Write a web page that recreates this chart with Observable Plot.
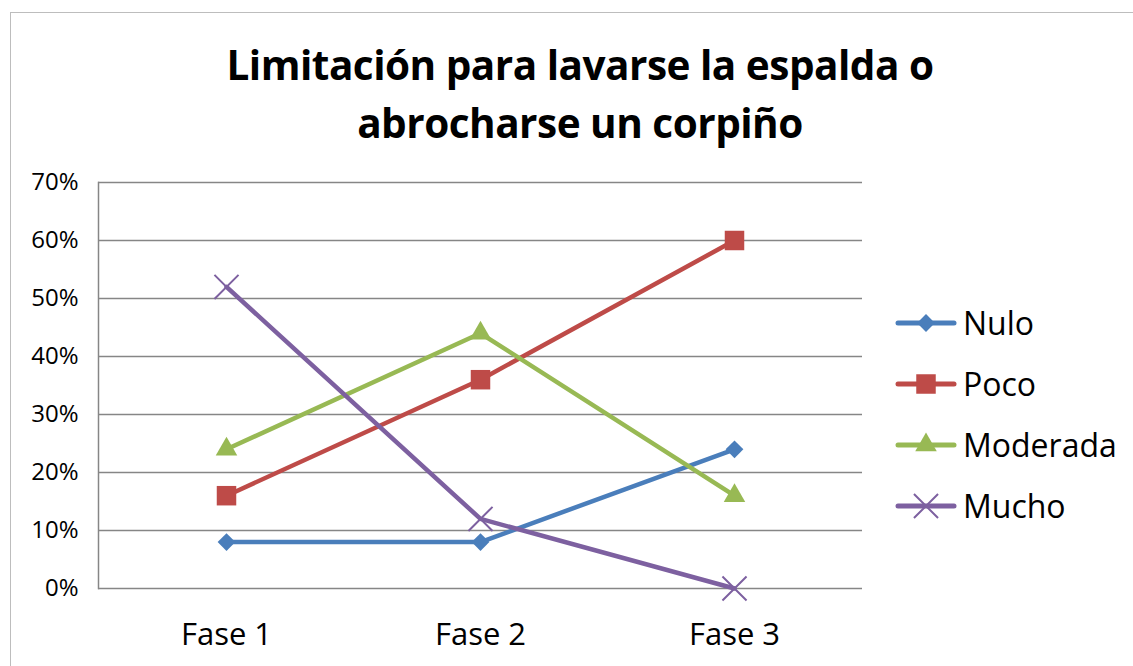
<!DOCTYPE html>
<html><head><meta charset="utf-8">
<script src="https://cdn.jsdelivr.net/npm/d3@7"></script>
<script src="https://cdn.jsdelivr.net/npm/@observablehq/plot@0.6"></script>
<style>
body{margin:0;background:#fff;font-family:"Open Sans",sans-serif;}
#wrap{position:relative;width:1133px;height:666px;overflow:hidden;}
#frame{position:absolute;left:10px;top:12px;width:1140px;height:700px;border:1px solid #bdbdbd;box-sizing:border-box;}
#title{position:absolute;left:0;top:36px;width:1160px;text-align:center;font-weight:bold;font-size:40.5px;line-height:58px;color:#000;font-family:"Open Sans",sans-serif;letter-spacing:-0.5px;}
#chart{position:absolute;left:0;top:160px;}
#legend{position:absolute;left:895px;top:292px;}
.row{display:flex;align-items:center;height:61px;font-size:32px;color:#000;}
.row svg{margin-right:6px;}
</style></head>
<body><div id="wrap"><div id="frame"></div>
<div id="title">Limitación para lavarse la espalda o<br>abrocharse un corpiño</div>
<div id="chart"></div><div id="legend"></div></div>
<script>
const fases = ["Fase 1","Fase 2","Fase 3"];
const series = ["Nulo","Poco","Moderada","Mucho"];
const nulo = [0.08,0.08,0.24];
const poco = [0.16,0.36,0.60];
const moderada = [0.24,0.44,0.16];
const mucho = [0.52,0.12,0.00];
const yTicks = [0,0.1,0.2,0.3,0.4,0.5,0.6,0.7];
const colors = ["#4a7ebb","#be4b48","#98b954","#7d60a0"];
const symbols = ["diamond2","square","triangle","times"];
const symSize = [8,11,8,11];

const values = [nulo,poco,moderada,mucho];
const data = [];
series.forEach((s,i)=>fases.forEach((f,j)=>data.push({serie:s,fase:f,v:values[i][j],color:colors[i]})));

const marks = [
  Plot.gridY(yTicks,{stroke:"#868686",strokeOpacity:1,strokeWidth:1.5}),
  Plot.frame({anchor:"left",stroke:"#868686",strokeWidth:1.5}),
  Plot.text(yTicks,{y:d=>d,text:d3.format(".0%"),frameAnchor:"left",textAnchor:"end",dx:-20,fontSize:24,fill:"#000"}),
  Plot.axisX({tickSize:0,tickPadding:34,fontSize:31,fill:"#000"}),
];
series.forEach((s,i)=>{
  const d = data.filter(e=>e.serie===s);
  marks.push(Plot.line(d,{x:"fase",y:"v",stroke:colors[i],strokeWidth:4.5}));
  const sym = symbols[i];
  if(sym==="times"){
    marks.push(Plot.dot(d,{x:"fase",y:"v",symbol:"times",r:symSize[i],stroke:colors[i],strokeWidth:2}));
  } else {
    marks.push(Plot.dot(d,{x:"fase",y:"v",symbol:sym,r:symSize[i],fill:colors[i],stroke:null}));
  }
});
const plot = Plot.plot({
  width:870,height:490,marginLeft:98,marginRight:8,marginTop:22,marginBottom:62,
  style:{fontFamily:"Open Sans, sans-serif",background:"transparent",overflow:"visible"},
  x:{type:"point",domain:fases,padding:0.5,label:null},
  y:{domain:[0,0.7],label:null,axis:null},
  marks
});
document.getElementById("chart").appendChild(plot);

// legend
const leg = document.getElementById("legend");
series.forEach((s,i)=>{
  const row = document.createElement("div"); row.className="row";
  const svg = d3.create("svg").attr("width",62).attr("height",30);
  svg.append("line").attr("x1",3).attr("x2",59).attr("y1",15).attr("y2",15).attr("stroke",colors[i]).attr("stroke-width",5).attr("stroke-linecap","round");
  const m = {diamond2:d3.symbolDiamond2,square:d3.symbolSquare,triangle:d3.symbolTriangle,times:d3.symbolTimes}[symbols[i]];
  const p = svg.append("path").attr("transform","translate(31,15)").attr("d",d3.symbol(m,Math.PI*symSize[i]*symSize[i])());
  if(symbols[i]==="times") p.attr("fill","none").attr("stroke",colors[i]).attr("stroke-width",2);
  else p.attr("fill",colors[i]);
  row.appendChild(svg.node());
  const t = document.createElement("span"); t.textContent=s; row.appendChild(t);
  leg.appendChild(row);
});
</script></body></html>
